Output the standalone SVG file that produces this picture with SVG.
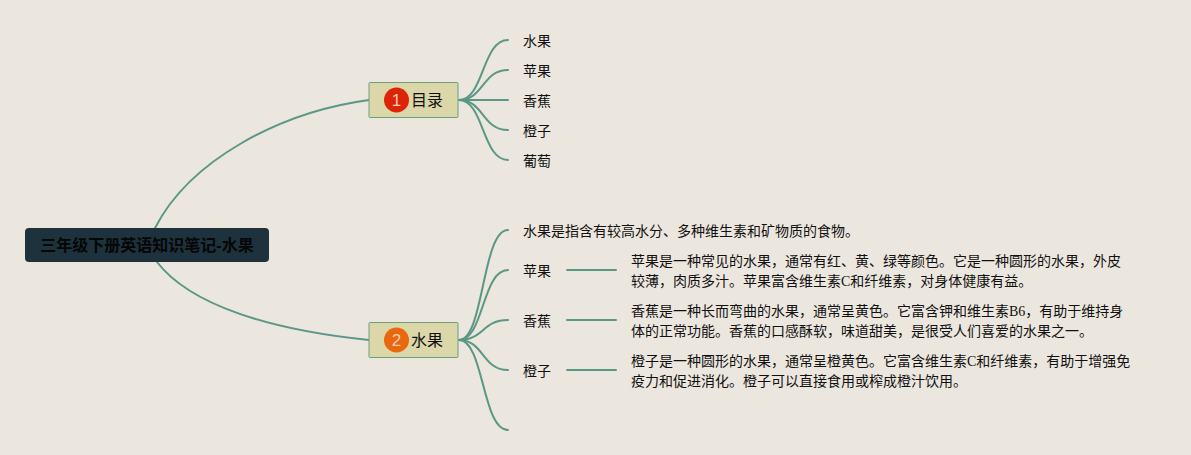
<svg xmlns="http://www.w3.org/2000/svg" width="1191" height="455" viewBox="0 0 1191 455">
<style>
text{font-family:"Liberation Serif","Noto Sans CJK SC",serif;font-size:14px;fill:#111}
.c{fill:none;stroke:#5a9785;stroke-width:2;stroke-linecap:round}
.t{fill:#dbd7a8;stroke:#6f9f80;stroke-width:1}
.b{font-size:16px}
.n{font-family:"Liberation Sans",sans-serif;font-size:17px;fill:#f4cdb4;text-anchor:middle}
</style>
<rect width="1191" height="455" fill="#ebe6de"/>
<g id="connectors">
<path class="c" d="M155 228C190 160 280 112 369 100"/>
<path class="c" d="M157 262C190 305 270 330 369 340"/>
<path class="c" d="M459 100C484 100 482 40 508 40"/>
<path class="c" d="M459 100C484 100 482 70 508 70"/>
<path class="c" d="M459 100H508"/>
<path class="c" d="M459 100C484 100 482 130 508 130"/>
<path class="c" d="M459 100C484 100 482 160 508 160"/>
<path class="c" d="M459 340C484 340 482 230 508 230"/>
<path class="c" d="M459 340C484 340 482 270 508 270"/>
<path class="c" d="M459 340C484 340 482 320 508 320"/>
<path class="c" d="M459 340C484 340 482 370 508 370"/>
<path class="c" d="M459 340C484 340 482 430 508 430"/>
<path class="c" d="M567 270H616"/>
<path class="c" d="M567 320H616"/>
<path class="c" d="M567 370H616"/>
</g>
<g id="root">
<rect x="25" y="228" width="244" height="34" rx="4" fill="#1d323d"/>
<text x="147" y="251" text-anchor="middle" font-weight="700" style="font-size:16px;font-family:'Liberation Sans','Noto Sans CJK SC',sans-serif;fill:#060606">三年级下册英语知识笔记-水果</text>
</g>
<g id="topic1">
<rect class="t" x="369" y="82.500" width="89" height="35" rx="1"/>
<circle cx="396.500" cy="100" r="12.500" fill="#dd2408"/>
<text class="n" x="396.500" y="106">1</text>
<text class="b" x="411" y="106">目录</text>
</g>
<g id="topic2">
<rect class="t" x="369" y="322.500" width="89" height="35" rx="1"/>
<circle cx="396.500" cy="340" r="12.500" fill="#e8670f"/>
<text class="n" x="396.500" y="346">2</text>
<text class="b" x="411" y="346">水果</text>
</g>
<g id="toc-items">
<text x="523" y="46">水果</text>
<text x="523" y="76">苹果</text>
<text x="523" y="106">香蕉</text>
<text x="523" y="136">橙子</text>
<text x="523" y="166">葡萄</text>
</g>
<g id="fruit-items">
<text x="523" y="236">水果是指含有较高水分、多种维生素和矿物质的食物。</text>
<text x="523" y="276">苹果</text>
<text x="523" y="326">香蕉</text>
<text x="523" y="376">橙子</text>
</g>
<g id="details">
<text x="631" y="266">苹果是一种常见的水果，通常有红、黄、绿等颜色。它是一种圆形的水果，外皮</text>
<text x="631" y="286">较薄，肉质多汁。苹果富含维生素C和纤维素，对身体健康有益。</text>
<text x="631" y="316">香蕉是一种长而弯曲的水果，通常呈黄色。它富含钾和维生素B6，有助于维持身</text>
<text x="631" y="336">体的正常功能。香蕉的口感酥软，味道甜美，是很受人们喜爱的水果之一。</text>
<text x="631" y="366">橙子是一种圆形的水果，通常呈橙黄色。它富含维生素C和纤维素，有助于增强免</text>
<text x="631" y="386">疫力和促进消化。橙子可以直接食用或榨成橙汁饮用。</text>
</g>
</svg>
